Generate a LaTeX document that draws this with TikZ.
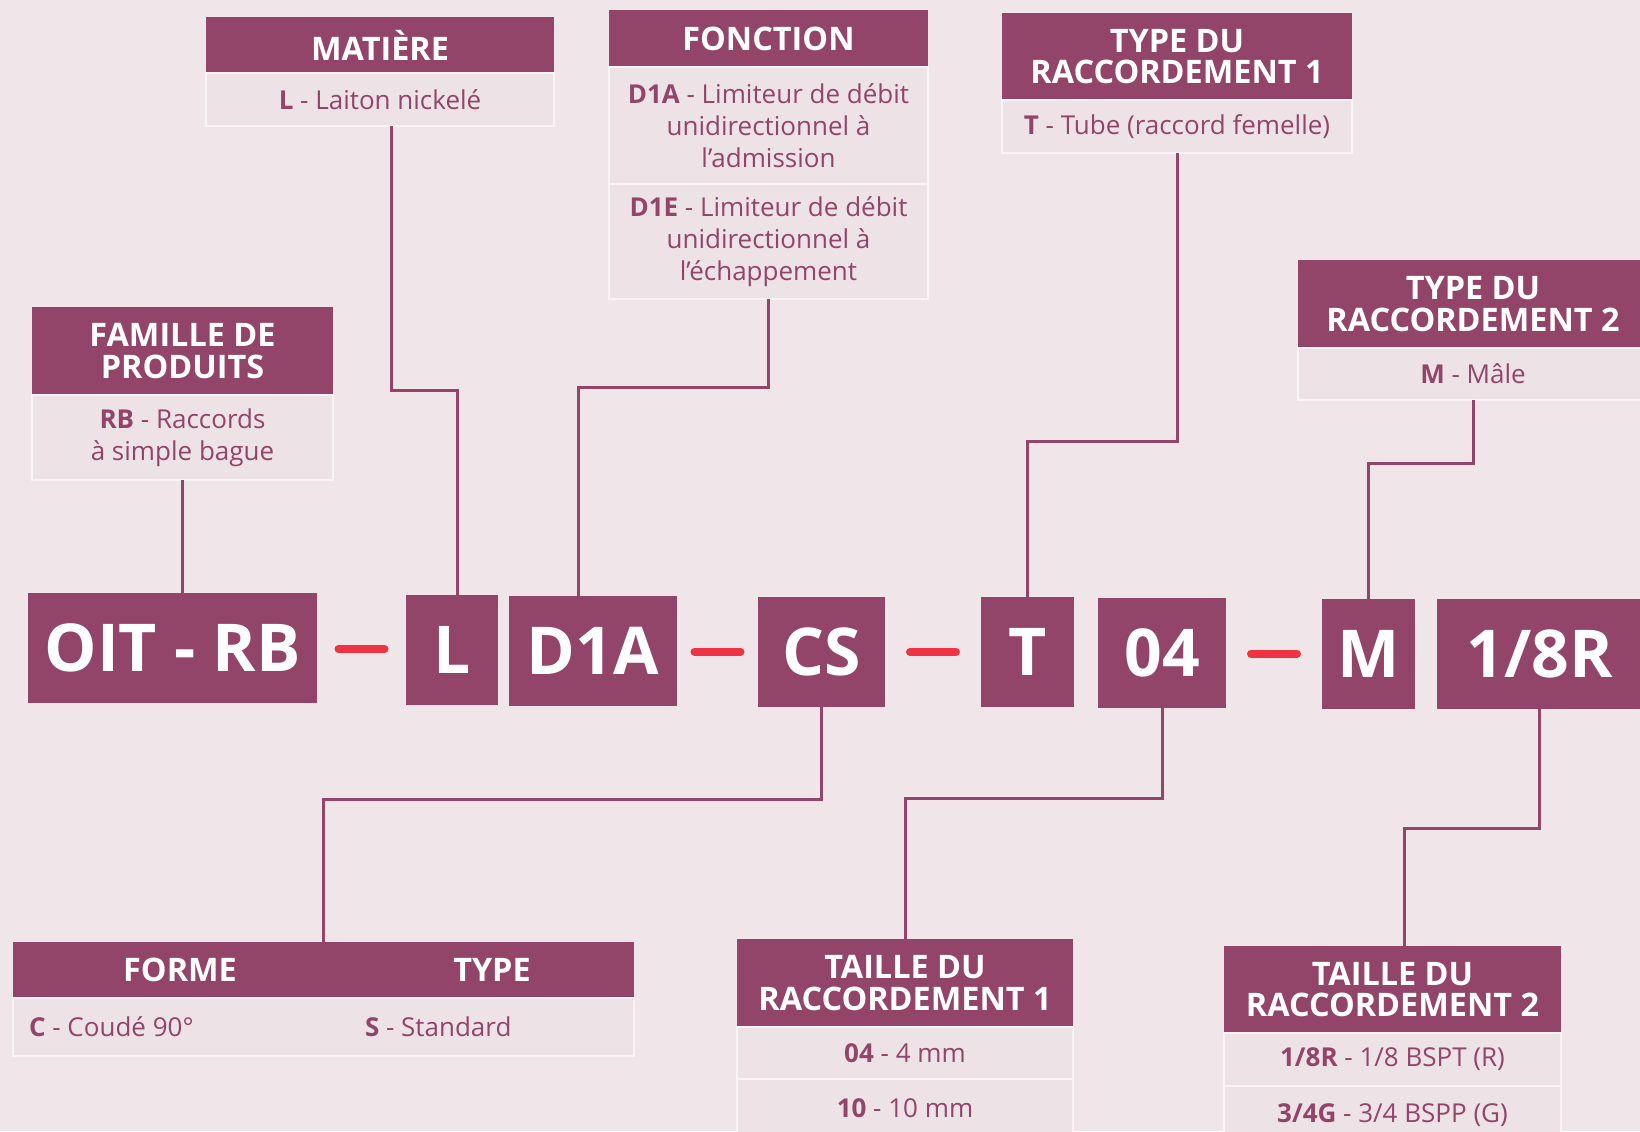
\documentclass[tikz,border=0pt]{standalone}
\usepackage{fontspec}
\setmainfont{Open Sans}
\usetikzlibrary{positioning,calc}
\definecolor{hd}{HTML}{934469}
\definecolor{bg}{HTML}{F0E6EA}
\definecolor{bd}{HTML}{EDE3E7}
\definecolor{rim}{HTML}{F9F4F6}
\definecolor{sepred}{HTML}{EE3442}
\tikzset{
  head/.style={fill=hd, text=white, font=\fontsize{16.2}{15.8}\selectfont\bfseries, align=center, inner sep=0pt, outer sep=0pt},
  body/.style={fill=bd, draw=rim, line width=0.6pt, text=hd, font=\fontsize{13}{16}\selectfont, align=center, inner sep=0pt, outer sep=0pt},
  code/.style={fill=hd, text=white, font=\fontsize{33}{33}\selectfont\bfseries, inner sep=0pt, outer sep=0pt, minimum height=55pt, anchor=north west},
  link/.style={hd, line width=1.5pt},
  sep/.style={sepred, line width=4pt, line cap=round},
}
\begin{document}
\begin{tikzpicture}[x=0.5pt,y=-0.5pt]
  \fill[bg] (0,0) rectangle (1640,1131);
  \useasboundingbox (0,0) rectangle (1640,1131);
  % top boxes
  \node[head, minimum width=174pt, minimum height=28pt, anchor=north west] (matH) at (206,17) {MATIÈRE};
  \node[body, minimum width=174pt, minimum height=26.5pt, below=0pt of matH] (matB) {\textbf{L} - Laiton nickelé};
  \node[head, minimum width=159.5pt, minimum height=28.5pt, anchor=north west] (fonH) at (609,10) {FONCTION};
  \node[body, minimum width=159.5pt, minimum height=58.5pt, below=0pt of fonH] (fonB1) {\textbf{D1A} - Limiteur de débit\\unidirectionnel à\\l’admission};
  \node[body, minimum width=159.5pt, minimum height=57.5pt, below=0pt of fonB1] (fonB2) {\textbf{D1E} - Limiteur de débit\\unidirectionnel à\\l’échappement};
  \node[head, minimum width=175pt, minimum height=43.5pt, anchor=north west] (t1H) at (1002,13) {TYPE DU\\RACCORDEMENT 1};
  \node[body, minimum width=175pt, minimum height=26.5pt, below=0pt of t1H] (t1B) {\textbf{T} - Tube (raccord femelle)};
  \node[head, minimum width=175pt, minimum height=44pt, anchor=north west] (t2H) at (1298,260) {TYPE DU\\RACCORDEMENT 2};
  \node[body, minimum width=175pt, minimum height=26pt, below=0pt of t2H] (t2B) {\textbf{M} - Mâle};
  \node[head, minimum width=150.5pt, minimum height=44pt, anchor=north west] (famH) at (32,307) {FAMILLE DE\\PRODUITS};
  \node[body, minimum width=150.5pt, minimum height=42.5pt, below=0pt of famH] (famB) {\textbf{RB} - Raccords\\à simple bague};
  % reference code
  \node[code, minimum width=144.5pt] (oit) at (28,593) {OIT - RB};
  \node[code, minimum width=46pt] (l) at (406,595) {L};
  \node[code, minimum width=84pt] (d1a) at (509,596) {D1A};
  \node[code, minimum width=63.5pt] (cs) at (758,597) {CS};
  \node[code, minimum width=46.5pt] (t) at (981,597) {T};
  \node[code, minimum width=64pt] (n04) at (1098,598) {04};
  \node[code, minimum width=46.5pt] (m) at (1322,599) {M};
  \node[code, minimum width=102.5pt] (n18) at (1437,599) {1/8R};
  \foreach \a/\b in {oit/l, d1a/cs, cs/t, n04/m}
    \draw[sep] ($(\a.east)!0.5!(\b.west)$) +(-23,0) -- +(23,0);
  % bottom boxes
  \node[head, minimum width=310.5pt, minimum height=28pt, anchor=north west] (formH) at (13,942) {};
  \node[head, fill=none] (formeT) at (180,970) {FORME};
  \node[head, fill=none] (typeT) at (492,970) {TYPE};
  \node[body, minimum width=310.5pt, minimum height=29pt, below=0pt of formH] (formB) {};
  \node[body, draw=none, fill=none, anchor=west] (formeV) at (29,1027) {\textbf{C} - Coudé 90°};
  \node[body, draw=none, fill=none, anchor=west] (typeV) at (365,1027) {\textbf{S} - Standard};
  \node[head, minimum width=168pt, minimum height=44pt, anchor=north west] (tr1H) at (737,939) {TAILLE DU\\RACCORDEMENT 1};
  \node[body, minimum width=168pt, minimum height=26pt, below=0pt of tr1H] (tr1B1) {\textbf{04} - 4 mm};
  \node[body, minimum width=168pt, minimum height=29pt, below=0pt of tr1B1] (tr1B2) {\textbf{10} - 10 mm};
  \node[head, minimum width=168.5pt, minimum height=43.5pt, anchor=north west] (tr2H) at (1224,946) {TAILLE DU\\RACCORDEMENT 2};
  \node[body, minimum width=168.5pt, minimum height=26.5pt, below=0pt of tr2H] (tr2B1) {\textbf{1/8R} - 1/8 BSPT (R)};
  \node[body, minimum width=168.5pt, minimum height=29pt, below=0pt of tr2B1] (tr2B2) {\textbf{3/4G} - 3/4 BSPP (G)};
  % links
  \draw[link] (famB.south) -- (famB.south |- oit.north);
  \draw[link] ([xshift=5.5pt]matB.south) -- ++(0,264) -| ([xshift=2.5pt]l.north);
  \draw[link] (fonB2.south) -- ++(0,88) -| ([xshift=-7.5pt]d1a.north);
  \draw[link] (t1B.south) -- ++(0,288) -| (t.north);
  \draw[link] (t2B.south) -- ++(0,63) -| (m.north);
  \draw[link] (cs.south) -- ++(0,92) -| (formH.north);
  \draw[link] (n04.south) -- ++(0,90) -| (tr1H.north);
  \draw[link] (n18.south) -- ++(0,119) -| ([xshift=6pt]tr2H.north);
\end{tikzpicture}
\end{document}
